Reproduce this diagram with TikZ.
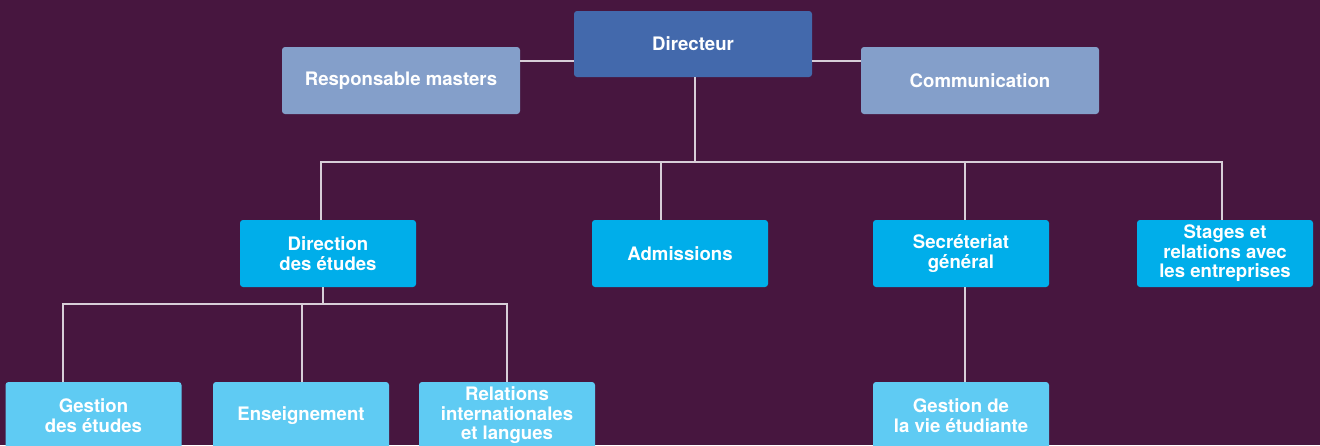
\documentclass[tikz,border=0pt]{standalone}
\usepackage{fontspec}
\setmainfont{TeX Gyre Heros}
\definecolor{bgc}{HTML}{47163F}
\definecolor{dirc}{HTML}{4369AC}
\definecolor{sidec}{HTML}{849FCA}
\definecolor{lvltwo}{HTML}{00AEEA}
\definecolor{lvlthree}{HTML}{5FCBF3}
\definecolor{linec}{HTML}{D8CED8}
\begin{document}
\begin{tikzpicture}[x=1pt,y=-1pt,
  orgbox/.style={rectangle, rounded corners=3pt, inner sep=0pt, align=center,
    text=white, font=\fontsize{18.6}{19.5}\selectfont\bfseries,
    minimum width=176pt, minimum height=67pt},
  wide/.style={minimum width=238pt},
  conn/.style={draw=linec, line width=1.3pt}]
\useasboundingbox (0,0) rectangle (1320,445);
\clip (0,0) rectangle (1320,445);
\fill[bgc] (0,0) rectangle (1320,445);
% nodes
\node[orgbox, wide, fill=dirc, minimum height=66pt] (dir) at (693,44) {Directeur};
\node[orgbox, wide, fill=sidec] (resp) at (401,80.5) {Responsable masters};
\node[orgbox, wide, fill=sidec] (comm) at (980,80.5) {Communication};
\node[orgbox, fill=lvltwo] (dde) at (328,253.5) {Direction\\des études};
\node[orgbox, fill=lvltwo] (adm) at (680,253.5) {Admissions};
\node[orgbox, fill=lvltwo] (sg) at (961,253.5) {Secréteriat\\général};
\node[orgbox, fill=lvltwo] (stg) at (1225,253.5) {Stages et\\relations avec\\les entreprises};
\node[orgbox, fill=lvlthree] (ged) at (93.5,415.5) {Gestion\\des études};
\node[orgbox, fill=lvlthree] (ens) at (301,415.5) {Enseignement};
\node[orgbox, fill=lvlthree] (rel) at (507,415.5) {Relations\\internationales\\et langues};
\node[orgbox, fill=lvlthree] (gve) at (961,415.5) {Gestion de\\la vie étudiante};
% coordinates
\coordinate (hy) at (0,61);
\coordinate (bus) at (0,162);
\coordinate (b1) at (321,162);
\coordinate (b2) at (661,162);
\coordinate (b3) at (965,162);
\coordinate (b4) at (1222,162);
\coordinate (d0) at (695,0);
\coordinate (c0) at (323,0);
\coordinate (c1) at (63,304);
\coordinate (c2) at (302,304);
\coordinate (c3) at (507,304);
\coordinate (s0) at (965,0);
% connectors
\draw[conn] (resp.east |- hy) -- (dir.west |- hy);
\draw[conn] (dir.east |- hy) -- (comm.west |- hy);
\draw[conn] (d0 |- dir.south) -- (d0 |- bus);
\draw[conn] (b1 |- dde.north) -- (b1) -- (b4) -- (b4 |- stg.north);
\draw[conn] (b2) -- (b2 |- adm.north);
\draw[conn] (b3) -- (b3 |- sg.north);
\draw[conn] (c0 |- dde.south) -- (c0 |- c1);
\draw[conn] (c1 |- ged.north) -- (c1) -- (c3) -- (c3 |- rel.north);
\draw[conn] (c2) -- (c2 |- ens.north);
\draw[conn] (s0 |- sg.south) -- (s0 |- gve.north);
\end{tikzpicture}
\end{document}
